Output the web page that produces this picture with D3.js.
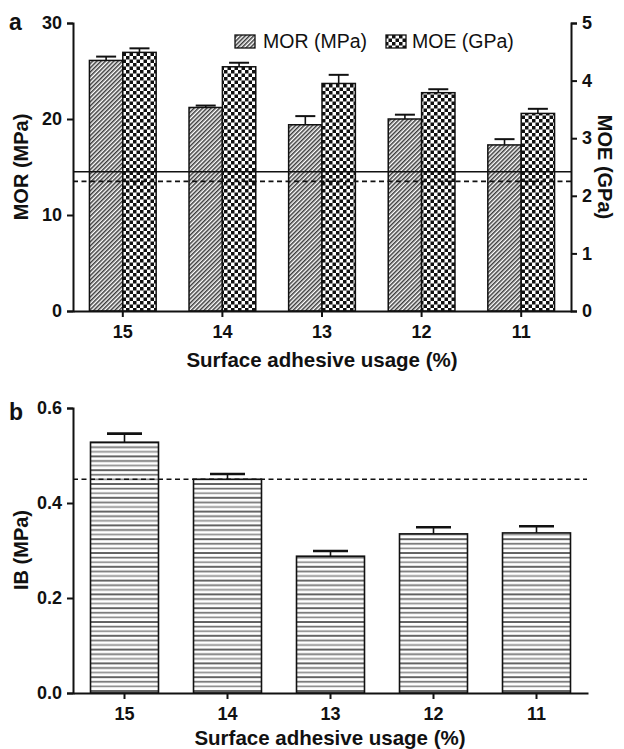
<!DOCTYPE html>
<html><head><meta charset="utf-8">
<script src="https://cdn.jsdelivr.net/npm/d3@7"></script>
<style>html,body{margin:0;padding:0;background:#fff;}svg{display:block;}</style>
</head><body>
<script>
const categories = ["15","14","13","12","11"];
const morValues = [26.1, 21.2, 19.4, 20.0, 17.3];
const morErrors = [0.4, 0.2, 0.9, 0.45, 0.6];
const moeValues = [4.49, 4.24, 3.95, 3.79, 3.43];
const moeErrors = [0.07, 0.07, 0.15, 0.06, 0.08];
const morRefSolid = 14.5;
const morRefDashed = 13.5;
const ibValues = [0.528, 0.450, 0.288, 0.335, 0.337];
const ibErrors = [0.018, 0.011, 0.011, 0.014, 0.014];
const ibRef = 0.45;
const morTicks = [0, 10, 20, 30];
const moeTicks = [0, 1, 2, 3, 4, 5];
const ibTicks = [0, 0.2, 0.4, 0.6];

const W = 624, H = 749;
const FONT = "'Liberation Sans', Arial, Helvetica, sans-serif";
const svg = d3.select("body").append("svg").attr("width", W).attr("height", H)
  .style("font-family", FONT);

const defs = svg.append("defs");
// diagonal hatch
const ph = defs.append("pattern").attr("id","hatch").attr("patternUnits","userSpaceOnUse")
  .attr("width",3).attr("height",3).attr("patternTransform","rotate(45)");
ph.append("rect").attr("width",3).attr("height",3).attr("fill","#fff");
ph.append("line").attr("x1",0.8).attr("x2",0.8).attr("y1",0).attr("y2",3).attr("stroke","#1a1a1a").attr("stroke-width",1.3);
// checker
const pc = defs.append("pattern").attr("id","checker").attr("patternUnits","userSpaceOnUse")
  .attr("width",7).attr("height",7);
pc.append("rect").attr("width",7).attr("height",7).attr("fill","#fff");
pc.append("rect").attr("x",0).attr("y",0).attr("width",3.5).attr("height",3.5).attr("fill","#111");
pc.append("rect").attr("x",3.5).attr("y",3.5).attr("width",3.5).attr("height",3.5).attr("fill","#111");
// horizontal lines
const pl = defs.append("pattern").attr("id","hlines").attr("patternUnits","userSpaceOnUse")
  .attr("width",10).attr("height",13.8);
pl.append("rect").attr("width",10).attr("height",13.8).attr("fill","#fff");
[[1,"#111",1.3],[5.6,"#6e6e6e",1.7],[10.2,"#8c8c8c",1.7]].forEach(([y,c,w])=>{
  pl.append("line").attr("x1",0).attr("x2",10).attr("y1",y).attr("y2",y).attr("stroke",c).attr("stroke-width",w);
});

function styleAxis(g, size){
  g.selectAll("path.domain").attr("stroke","#111").attr("stroke-width",2);
  g.selectAll(".tick line").attr("stroke","#111").attr("stroke-width",2);
  g.selectAll(".tick text").attr("fill","#111").style("font-family",FONT)
    .style("font-weight","bold").style("font-size",size+"px");
}

// ---------- Panel a ----------
const xa = d3.scaleBand().domain(categories).range([73, 571]).padding(0);
const yL = d3.scaleLinear().domain([0, 30]).range([311, 23]);
const yR = d3.scaleLinear().domain([0, 5]).range([311, 23]);
const bwA = xa.bandwidth() * 0.335;
const cx = c => xa(c) + xa.bandwidth()/2;

const ga = svg.append("g");
const morData = categories.map((c,i)=>({c, v: morValues[i], e: morErrors[i]}));
const moeData = categories.map((c,i)=>({c, v: moeValues[i], e: moeErrors[i]}));

function errBars(g, data, xf, ys, capW, sw){
  g.selectAll(null).data(data).enter().append("line")
    .attr("x1", d=>xf(d)).attr("x2", d=>xf(d))
    .attr("y1", d=>ys(d.v)).attr("y2", d=>ys(d.v + d.e))
    .attr("stroke","#111").attr("stroke-width",1.6);
  g.selectAll(null).data(data).enter().append("line")
    .attr("x1", d=>xf(d)-capW/2).attr("x2", d=>xf(d)+capW/2)
    .attr("y1", d=>ys(d.v + d.e)).attr("y2", d=>ys(d.v + d.e))
    .attr("stroke","#111").attr("stroke-width",sw);
}
errBars(ga, morData, d=>cx(d.c)-bwA/2, yL, 20, 2);
errBars(ga, moeData, d=>cx(d.c)+bwA/2, yR, 20, 2);

ga.selectAll(".mor").data(morData).enter().append("rect")
  .attr("x", d=>cx(d.c)-bwA).attr("y", d=>yL(d.v))
  .attr("width", bwA).attr("height", d=>yL(0)-yL(d.v))
  .attr("fill","url(#hatch)").attr("stroke","#111").attr("stroke-width",1.5);
ga.selectAll(".moe").data(moeData).enter().append("rect")
  .attr("x", d=>cx(d.c)).attr("y", d=>yR(d.v))
  .attr("width", bwA).attr("height", d=>yR(0)-yR(d.v))
  .attr("fill","url(#checker)").attr("stroke","#111").attr("stroke-width",1.5);

ga.append("line").attr("x1",73).attr("x2",571).attr("y1",yL(morRefSolid)).attr("y2",yL(morRefSolid))
  .attr("stroke","#111").attr("stroke-width",1.6);
ga.append("line").attr("x1",73).attr("x2",571).attr("y1",yL(morRefDashed)).attr("y2",yL(morRefDashed))
  .attr("stroke","#111").attr("stroke-width",1.6).attr("stroke-dasharray","5,3.5");

const axL = ga.append("g").attr("transform","translate(73,0)")
  .call(d3.axisLeft(yL).tickValues(morTicks).tickSize(6).tickPadding(5).tickFormat(d3.format("d")));
styleAxis(axL, 18);
const axR = ga.append("g").attr("transform","translate(571,0)")
  .call(d3.axisRight(yR).tickValues(moeTicks).tickSize(6).tickPadding(5).tickFormat(d3.format("d")));
styleAxis(axR, 18);
const axB = ga.append("g").attr("transform","translate(0,311)")
  .call(d3.axisBottom(xa).tickSize(6).tickPadding(8).tickSizeOuter(0));
styleAxis(axB, 18);

ga.append("text").attr("x",322).attr("y",367).attr("text-anchor","middle")
  .style("font-weight","bold").style("font-size","20.5px").attr("fill","#111").text("Surface adhesive usage (%)");
ga.append("text").attr("transform","translate(28,167) rotate(-90)").attr("text-anchor","middle")
  .style("font-weight","bold").style("font-size","20px").attr("fill","#111").text("MOR (MPa)");
ga.append("text").attr("transform","translate(598,167) rotate(90)").attr("text-anchor","middle")
  .style("font-weight","bold").style("font-size","20px").attr("fill","#111").text("MOE (GPa)");
ga.append("text").attr("x",9).attr("y",30)
  .style("font-weight","bold").style("font-size","23px").attr("fill","#111").text("a");

ga.append("rect").attr("x",235).attr("y",35).attr("width",20).attr("height",13)
  .attr("fill","url(#hatch)").attr("stroke","#111").attr("stroke-width",1.3);
ga.append("text").attr("x",263).attr("y",48).style("font-size","19.5px").attr("fill","#111").text("MOR (MPa)");
ga.append("rect").attr("x",386).attr("y",35).attr("width",20).attr("height",13)
  .attr("fill","url(#checker)").attr("stroke","#111").attr("stroke-width",1.3);
ga.append("text").attr("x",412).attr("y",48).style("font-size","19.5px").attr("fill","#111").text("MOE (GPa)");

// ---------- Panel b ----------
const xb = d3.scaleBand().domain(categories).range([73, 588]).padding(0);
const yb = d3.scaleLinear().domain([0, 0.6]).range([693, 408]);
const bwB = xb.bandwidth() * 0.66;
const cxb = c => xb(c) + xb.bandwidth()/2;
const gb = svg.append("g");
const ibData = categories.map((c,i)=>({c, v: ibValues[i], e: ibErrors[i]}));

errBars(gb, ibData, d=>cxb(d.c), yb, 35, 2.6);
gb.selectAll(".ib").data(ibData).enter().append("rect")
  .attr("x", d=>cxb(d.c)-bwB/2).attr("y", d=>yb(d.v))
  .attr("width", bwB).attr("height", d=>yb(0)-yb(d.v))
  .attr("fill","url(#hlines)").attr("stroke","#111").attr("stroke-width",1.6);

gb.append("line").attr("x1",73).attr("x2",587).attr("y1",yb(ibRef)).attr("y2",yb(ibRef))
  .attr("stroke","#111").attr("stroke-width",1.6).attr("stroke-dasharray","5,3.5");

const axLb = gb.append("g").attr("transform","translate(73,0)")
  .call(d3.axisLeft(yb).tickValues(ibTicks).tickSize(6).tickPadding(5).tickFormat(d3.format(".1f")));
styleAxis(axLb, 18);
const axBb = gb.append("g").attr("transform","translate(0,693)")
  .call(d3.axisBottom(xb).tickSize(6).tickPadding(8).tickSizeOuter(0));
styleAxis(axBb, 18);

gb.append("text").attr("x",330).attr("y",745).attr("text-anchor","middle")
  .style("font-weight","bold").style("font-size","20.5px").attr("fill","#111").text("Surface adhesive usage (%)");
gb.append("text").attr("transform","translate(28,550) rotate(-90)").attr("text-anchor","middle")
  .style("font-weight","bold").style("font-size","20px").attr("fill","#111").text("IB (MPa)");
gb.append("text").attr("x",9).attr("y",420)
  .style("font-weight","bold").style("font-size","23px").attr("fill","#111").text("b");
</script>
</body></html>
